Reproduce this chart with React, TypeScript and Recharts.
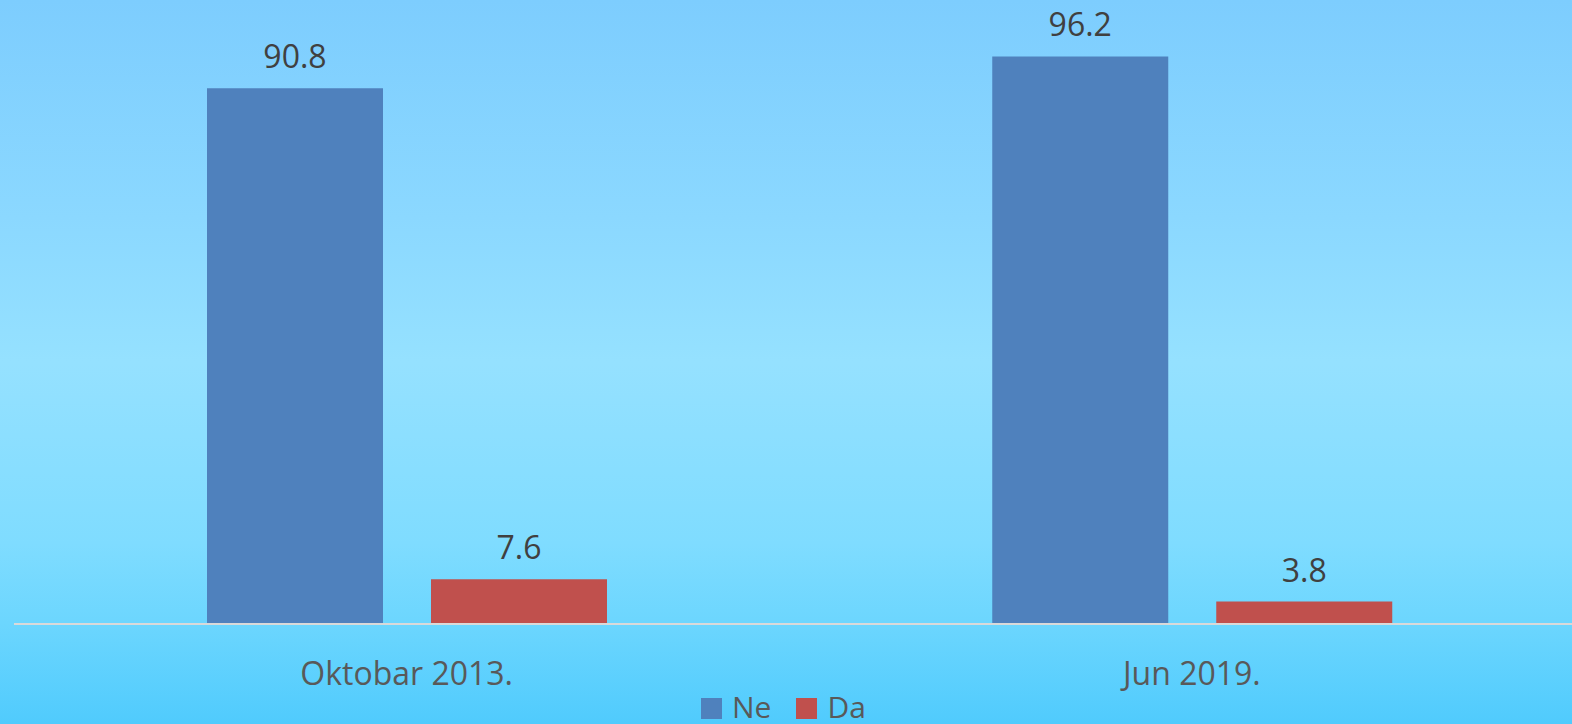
import React from 'react';
import { BarChart, Bar, XAxis, YAxis, LabelList } from 'recharts';

const categories = ['Oktobar 2013.', 'Jun 2019.'];
const neValues = [90.8, 96.2];
const daValues = [7.6, 3.8];
const seriesNames = ['Ne', 'Da'];

const NE_COLOR = '#4f81bd';
const DA_COLOR = '#c0504d';
const FONT = '"Open Sans", "Noto Sans", sans-serif';

const chartData = categories.map((name, i) => ({
  name,
  Ne: neValues[i],
  Da: daValues[i],
}));

const CategoryTick = ({ x, y, payload }: any) => (
  <text
    x={x}
    y={y + 61}
    textAnchor="middle"
    fill="#595959"
    fontSize={32}
    fontFamily={FONT}
  >
    {payload.value}
  </text>
);

// legend drawn as plain html under the plot
const ChartLegend = () => {
  const colors = [NE_COLOR, DA_COLOR];
  return (
    <div
      style={{
        position: 'absolute',
        top: 692,
        left: 701,
        display: 'flex',
        alignItems: 'center',
        fontFamily: FONT,
      }}
    >
      {seriesNames.map((n, i) => (
        <div key={n} style={{ display: 'flex', alignItems: 'center', marginRight: 25 }}>
          <div style={{ width: 21, height: 21, background: colors[i], marginRight: 10, marginTop: 2 }} />
          <span style={{ fontSize: 30, color: '#595959', lineHeight: '30px' }}>{n}</span>
        </div>
      ))}
    </div>
  );
};

const App: React.FC = () => {
  return (
    <div
      style={{
        position: 'absolute',
        left: 0,
        top: 0,
        width: 1572,
        height: 724,
        overflow: 'hidden',
        background:
          'linear-gradient(to bottom, #7dcdfe 0%, #8bd8ff 30%, #95e1ff 50%, #7fdcff 75%, #6cd6fe 86%, #50cbfd 100%)',
      }}
    >
      <BarChart
        width={1600}
        height={724}
        data={chartData}
        margin={{ top: 34, right: 15.5, left: 14, bottom: 40 }}
        barSize={176}
        barGap={48}
      >
        <XAxis
          dataKey="name"
          axisLine={{ stroke: '#d9d9d9', strokeWidth: 2 }}
          tickLine={false}
          tickSize={0}
          tickMargin={0}
          height={60}
          tick={<CategoryTick />}
          interval={0}
        />
        <YAxis domain={[0, 100]} hide />
        <Bar dataKey="Ne" fill={NE_COLOR} isAnimationActive={false}>
          <LabelList
            dataKey="Ne"
            position="top"
            offset={20}
            fill="#404040"
            fontSize={32}
            fontFamily={FONT}
          />
        </Bar>
        <Bar dataKey="Da" fill={DA_COLOR} isAnimationActive={false}>
          <LabelList
            dataKey="Da"
            position="top"
            offset={20}
            fill="#404040"
            fontSize={32}
            fontFamily={FONT}
          />
        </Bar>
      </BarChart>
      <ChartLegend />
    </div>
  );
};

export default App;
